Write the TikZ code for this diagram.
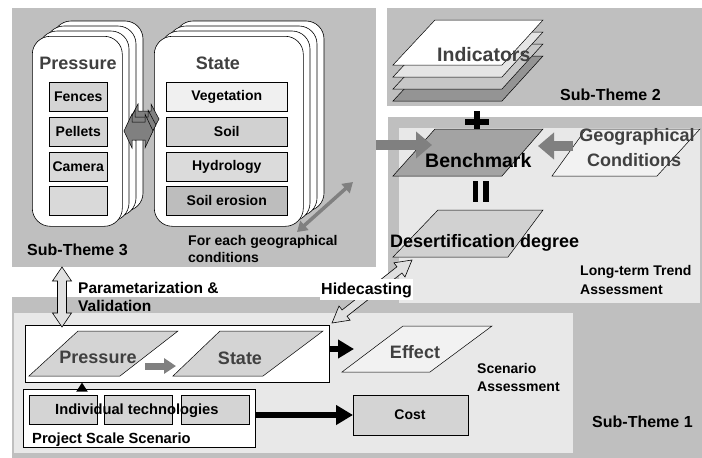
\documentclass[tikz,border=0pt]{standalone}
\usepackage{fontspec}
\setmainfont{Liberation Sans}
\usetikzlibrary{arrows.meta,calc}
\definecolor{panelgray}{gray}{0.75}
\definecolor{innergray}{gray}{0.91}
\definecolor{boxgray}{gray}{0.83}
\definecolor{darktext}{gray}{0.25}
\definecolor{arrgray}{gray}{0.5}
\newcommand\blockdarrow[6]{%
  \coordinate (bdaS) at (#2);
  \coordinate (bdaE) at (#3);
  \coordinate (bdaA) at ($(bdaS)!#6!(bdaE)$);
  \coordinate (bdaB) at ($(bdaE)!#6!(bdaS)$);
  \draw[#1] (bdaS) -- ($(bdaA)!#5!90:(bdaE)$) -- ($(bdaA)!#4!90:(bdaE)$)
    -- ($(bdaB)!#4!-90:(bdaS)$) -- ($(bdaB)!#5!-90:(bdaS)$) -- (bdaE)
    -- ($(bdaB)!#5!90:(bdaS)$) -- ($(bdaB)!#4!90:(bdaS)$)
    -- ($(bdaA)!#4!-90:(bdaE)$) -- ($(bdaA)!#5!-90:(bdaE)$) -- cycle;
}
\begin{document}
\begin{tikzpicture}[x=1pt,y=-1pt,
  panel/.style={fill=panelgray, draw=none},
  innerpanel/.style={fill=innergray, draw=none},
  card/.style={draw=black, fill=white, rounded corners=18pt, line width=0.6pt},
  itembox/.style={draw=black, line width=0.5pt, fill=boxgray, anchor=north west, inner sep=0pt,
    font=\bfseries\fontsize{14}{16}\selectfont},
  para/.style={draw=black, line width=0.5pt},
  lbl/.style={font=\bfseries\fontsize{14}{17}\selectfont, inner sep=0pt},
  midlbl/.style={font=\bfseries\fontsize{15.5}{18}\selectfont, inner sep=0pt},
  sublbl/.style={font=\bfseries\fontsize{16}{18}\selectfont, inner sep=0pt},
  bigtxt/.style={font=\bfseries\fontsize{18}{22}\selectfont, inner sep=0pt},
  hugetxt/.style={font=\bfseries\fontsize{19.5}{22}\selectfont, inner sep=0pt},
  grayarr/.style={draw=arrgray, line width=10pt, -{Triangle[length=16pt,width=26pt]}},
  smallgrayarr/.style={draw=arrgray, line width=7pt, -{Triangle[length=12pt,width=15pt]}},
  blackarr/.style={draw=black, line width=6pt, -{Triangle[length=16pt,width=18pt]}},
  hollowarr/.style={draw=black, fill=black!12, line width=0.6pt},
  thinlink/.style={draw=arrgray, line width=3.5pt, {Triangle[length=10pt,width=12pt]}-{Triangle[length=10pt,width=12pt]}},
]
\useasboundingbox (0,0) rectangle (702,458);

% ---------- panels ----------
\fill[panel] (12,297) rectangle (702,458);
\fill[innerpanel] (14,313) rectangle (573,453);
\fill[panel] (388,117) rectangle (702,303);
\fill[innerpanel] (399,128) rectangle (700,303);
\fill[panel] (387,8) rectangle (702,106);
\fill[panel] (12,8) rectangle (376,267);

% ---------- Sub-Theme 3 ----------
\foreach \i in {3,2,1} \draw[card] (32+7*\i,36-5*\i) rectangle ++(90,190);
\node[card, anchor=north west, minimum width=90pt, minimum height=190pt, inner sep=0pt] (pcard) at (32,36) {};
\foreach \i in {3,2,1} \draw[card] (154+7*\i,36-5*\i) rectangle ++(149,190);
\node[card, anchor=north west, minimum width=149pt, minimum height=190pt, inner sep=0pt] (scard) at (154,36) {};

\node[bigtxt, text=darktext, anchor=base] (ptitle) at (78,69) {Pressure};
\node[bigtxt, text=darktext, anchor=base] (stitle) at (218,69) {State};

\node[itembox, minimum width=58pt, minimum height=29pt] (fences) at (49,82) {Fences};
\node[itembox, minimum width=58pt, minimum height=28.5pt] (pellets) at (49,117) {Pellets};
\node[itembox, minimum width=58pt, minimum height=28.5pt, fill=black!15] (camera) at (49,152) {Camera};
\node[itembox, minimum width=58pt, minimum height=29pt, fill=black!15] (emptyitem) at (49,186) {};

\node[itembox, minimum width=121pt, minimum height=29pt, fill=black!6] (veg) at (166,82) {Vegetation};
\node[itembox, minimum width=121pt, minimum height=28.5pt, fill=black!18] (soil) at (166,117) {Soil};
\node[itembox, minimum width=121pt, minimum height=28.5pt, fill=black!14] (hydro) at (166,152) {Hydrology};
\node[itembox, minimum width=121pt, minimum height=29pt, fill=black!26] (erosion) at (166,186) {Soil erosion};

% stacked double arrow between Pressure and State
\blockdarrow{draw=black, fill=black!50, line width=0.5pt}{130,119}{159,119}{8pt}{15pt}{8pt}
\blockdarrow{draw=black, fill=black!50, line width=0.5pt}{127,125}{156,125}{8pt}{15pt}{8pt}
\blockdarrow{draw=black, fill=black!50, line width=0.5pt}{124,131}{153,131}{9pt}{17pt}{8pt}

\node[sublbl, anchor=base west] (st3) at (27,255) {Sub-Theme 3};
\node[lbl, anchor=base west] (foreach1) at (188,245) {For each geographical};
\node[lbl, anchor=base west] (foreach2) at (188,262) {conditions};
\coordinate (diagA) at (297,232);
\coordinate (diagB) at (353,182);
\draw[thinlink] (diagA) -- (diagB);

% ---------- Sub-Theme 2 ----------
\draw[para, fill=black!42] (393,101) -- (435,56) -- (543,56) -- (502,101) -- cycle;
\draw[para, fill=black!22] (393,89) -- (435,44) -- (543,44) -- (502,89) -- cycle;
\draw[para, fill=black!10] (393,77) -- (435,32) -- (543,32) -- (502,77) -- cycle;
\draw[para, fill=white] (393,65) -- (435,20) -- (543,20) -- (502,65) -- cycle;
\node[hugetxt, text=darktext, anchor=base west] (indicators) at (437,61) {Indicators};
\node[sublbl, anchor=base west] (st2) at (560,100) {Sub-Theme 2};

% ---------- Long-term Trend Assessment ----------
\draw[black, line width=6.5pt] (465,122) -- (489,122);
\draw[black, line width=6.5pt] (477,111) -- (477,133);

\draw[para, fill=black!36] (393,176) -- (435,129) -- (543,129) -- (502,176) -- cycle;
\node[hugetxt, anchor=base west] (benchmark) at (425,167) {Benchmark};

\draw[para, fill=black!5] (552,176) -- (586,129) -- (700,129) -- (657,176) -- cycle;
\node[bigtxt, text=darktext, anchor=base] (geo1) at (637,141) {Geographical};
\node[bigtxt, text=darktext, anchor=base] (geo2) at (634,166) {Conditions};

\fill[black] (472.5,181) rectangle (478,202);
\fill[black] (483,181) rectangle (488.5,202);

\draw[para, fill=black!18] (393,257) -- (438,210) -- (543,210) -- (508,257) -- cycle;
\node[bigtxt, anchor=base west] (desert) at (390,247) {Desertification degree};

\node[lbl, anchor=base west] (lt1) at (580,275) {Long-term Trend};
\node[lbl, anchor=base west] (lt2) at (580,294) {Assessment};

% arrows into Benchmark
\coordinate (leftin) at (376,145);
\coordinate (benchL) at (432,145);
\draw[grayarr] (leftin) -- (benchL);
\coordinate (geoL) at (573,146);
\coordinate (benchR) at (538,146);
\draw[grayarr] (geoL) -- (benchR);

% ---------- Sub-Theme 1 ----------
\node[draw=black, fill=white, line width=0.6pt, anchor=north west, minimum width=304pt, minimum height=57pt, inner sep=0pt] (psbox) at (25,325) {};
\draw[para, fill=boxgray] (29,376) -- (78,331) -- (178,331) -- (120,376) -- cycle;
\node[bigtxt, text=darktext, anchor=base] (pressure2) at (98,363) {Pressure};
\draw[para, fill=boxgray] (173,376) -- (220,331) -- (323,331) -- (263,376) -- cycle;
\node[bigtxt, text=darktext, anchor=base] (state2) at (240,364) {State};
\coordinate (pgA) at (145,366);
\coordinate (pgB) at (176,366);
\draw[smallgrayarr] (pgA) -- (pgB);

\draw[para, fill=black!5] (342,372) -- (403,326) -- (492,326) -- (430,372) -- cycle;
\node[bigtxt, text=darktext, anchor=base] (effect) at (415,358) {Effect};
\coordinate (effectL) at (354,349);
\draw[blackarr] (psbox.east |- effectL) -- (effectL);

\node[lbl, anchor=base west] (sa1) at (477,373) {Scenario};
\node[lbl, anchor=base west] (sa2) at (477,391) {Assessment};

\node[draw=black, fill=white, line width=0.6pt, anchor=north west, minimum width=232pt, minimum height=58pt, inner sep=0pt] (pssbox) at (23,389) {};
\node[itembox, minimum width=68pt, minimum height=29pt] (tech1) at (29,395) {};
\node[itembox, minimum width=68pt, minimum height=29pt] (tech2) at (104,395) {};
\node[itembox, minimum width=68pt, minimum height=29pt] (tech3) at (181,395) {};
\node[font=\bfseries\fontsize{14.7}{17}\selectfont, inner sep=0pt, anchor=base west] (techlbl) at (55,414) {Individual technologies};
\node[font=\bfseries\fontsize{14.7}{17}\selectfont, inner sep=0pt, anchor=base west] (pssl) at (32,443) {Project Scale Scenario};

\coordinate (upbase) at (82,389);
\draw[black, line width=2pt, -{Triangle[length=9pt,width=11pt]}] (upbase) -- (upbase |- psbox.south);

\node[draw=black, fill=boxgray, line width=0.6pt, anchor=north west, minimum width=115pt, minimum height=40pt, inner sep=0pt] (cost) at (353,395) {};
\node[lbl, anchor=base] (costlbl) at (410,419) {Cost};
\coordinate (pssR) at (255,415);
\draw[blackarr, -{Triangle[length=17pt,width=19pt]}] (pssR) -- (cost.west |- pssR);

\node[sublbl, anchor=base west] (st1) at (592,427) {Sub-Theme 1};

% ---------- crossing arrows ----------
\blockdarrow{hollowarr}{62,267}{62,327}{4.5pt}{9.5pt}{14pt}
\node[midlbl, anchor=base west] (param1) at (78,293) {Parametarization \&};
\node[midlbl, anchor=base west] (param2) at (78,311) {Validation};

\blockdarrow{hollowarr}{332,323}{412,260}{4pt}{9pt}{16pt}
\node[sublbl, anchor=base west, fill=white, inner xsep=1pt, inner ysep=3pt] (hide) at (320,294) {Hidecasting};
\end{tikzpicture}
\end{document}
